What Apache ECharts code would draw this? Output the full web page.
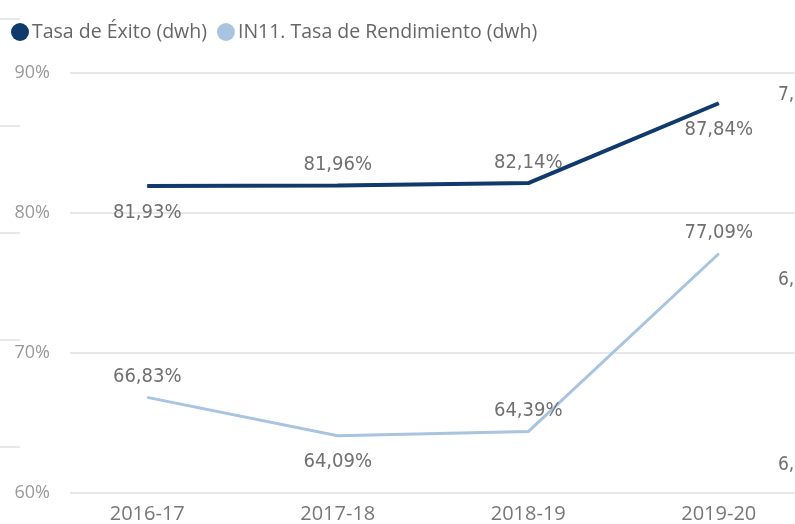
<!DOCTYPE html>
<html>
<head>
<meta charset="utf-8">
<script src="https://cdn.jsdelivr.net/npm/echarts@6/dist/echarts.min.js"></script>
<style>
  html, body { margin: 0; padding: 0; background: #fff; }
  #chart { width: 795px; height: 524px; }
</style>
</head>
<body>
<div id="chart"></div>
<script>
var myChart = echarts.init(document.getElementById('chart'));

var cursos = ['2016-17', '2017-18', '2018-19', '2019-20'];
var tasaExito = [81.93, 81.96, 82.14, 87.84];
var tasaRendimiento = [66.83, 64.09, 64.39, 77.09];
// posicion de cada etiqueta (arriba / abajo de la linea)
var posExito = ['bottom', 'top', 'top', 'bottom'];
var posRendimiento = ['top', 'bottom', 'top', 'top'];
// eje derecho recortado (solo se ve el primer caracter)
var ejeDerecho = [6.2, 6.6, 7.0];

var fmt = function (v) {
    return v.toFixed(2).replace('.', ',') + '%';
};

var labelStyle = {
    show: true,
    color: '#707070',
    fontSize: 20,
    fontFamily: '"DejaVu Sans Condensed", "Liberation Sans Narrow", sans-serif'
};

var buildData = function (vals, pos) {
    var res = [];
    for (var i = 0; i < vals.length; i++) {
        res.push({
            value: vals[i],
            label: Object.assign({}, labelStyle, {
                position: pos[i],
                distance: pos[i] == 'bottom' ? 16 : 10,
                formatter: fmt(vals[i])
            })
        });
    }
    return res;
};

option = {
    backgroundColor: '#fff',
    animation: false,
    legend: {
        left: 6,
        top: 17,
        icon: 'circle',
        itemWidth: 18,
        itemHeight: 18,
        itemGap: 10,
        textStyle: {
            color: '#666',
            fontSize: 19.5,
            fontFamily: '"Open Sans", sans-serif',
            padding: [0, 0, 0, -2]
        },
        data: ['Tasa de Éxito (dwh)', 'IN11. Tasa de Rendimiento (dwh)']
    },
    grid: [
        {left: 70, right: 0, top: 73, bottom: 31, outerBoundsMode: 'none'},
        {left: 52, width: 762, top: 73, bottom: 31, outerBoundsMode: 'none'},
        // restos del grafico de la izquierda
        {left: -100, width: 120, top: 19, height: 428, outerBoundsMode: 'none'}
    ],
    xAxis: [
        {gridIndex: 0, type: 'value', show: false},
        {
            gridIndex: 1,
            type: 'category',
            data: cursos,
            boundaryGap: true,
            axisLine: {show: false},
            axisTick: {show: false},
            axisLabel: {
                color: '#777',
                fontSize: 20,
                margin: 11,
                fontFamily: '"Open Sans", sans-serif'
            }
        },
        {gridIndex: 2, type: 'value', show: false}
    ],
    yAxis: [
        {
            gridIndex: 0,
            type: 'value',
            min: 60,
            max: 90,
            interval: 10,
            axisLine: {show: false},
            axisTick: {show: false},
            axisLabel: {
                color: '#999',
                fontSize: 18,
                margin: 20,
                fontFamily: '"Open Sans", sans-serif',
                formatter: '{value}%'
            },
            splitLine: {lineStyle: {color: '#e8e8e8', width: 2}}
        },
        {gridIndex: 1, type: 'value', min: 60, max: 90, show: false},
        {
            gridIndex: 0,
            type: 'value',
            position: 'right',
            offset: -25,
            min: 6.1395,
            max: 7.0476,
            axisLine: {show: false},
            axisTick: {show: false},
            splitLine: {show: false},
            axisLabel: {
                customValues: ejeDerecho,
                margin: 8,
                color: '#707070',
                fontSize: 19,
                fontFamily: '"DejaVu Sans Condensed", "Liberation Sans Narrow", sans-serif',
                formatter: function (v) { return v.toFixed(1).replace('.', ','); }
            }
        },
        {
            gridIndex: 2,
            type: 'value',
            min: 0,
            max: 4,
            interval: 1,
            axisLine: {show: false},
            axisTick: {show: false},
            axisLabel: {show: false},
            splitLine: {lineStyle: {color: '#e8e8e8', width: 2}}
        }
    ],
    series: [
        {
            name: 'Tasa de Éxito (dwh)',
            type: 'line',
            xAxisIndex: 1,
            yAxisIndex: 1,
            data: buildData(tasaExito, posExito),
            symbol: 'circle',
            symbolSize: 1,
            showSymbol: true,
            color: '#0f3a6b',
            lineStyle: {width: 4, color: '#0f3a6b'}
        },
        {
            name: 'IN11. Tasa de Rendimiento (dwh)',
            type: 'line',
            xAxisIndex: 1,
            yAxisIndex: 1,
            data: buildData(tasaRendimiento, posRendimiento),
            symbol: 'circle',
            symbolSize: 1,
            showSymbol: true,
            color: '#a8c4e0',
            lineStyle: {width: 3, color: '#a8c4e0'}
        }
    ]
};
myChart.setOption(option);
</script>
</body>
</html>
